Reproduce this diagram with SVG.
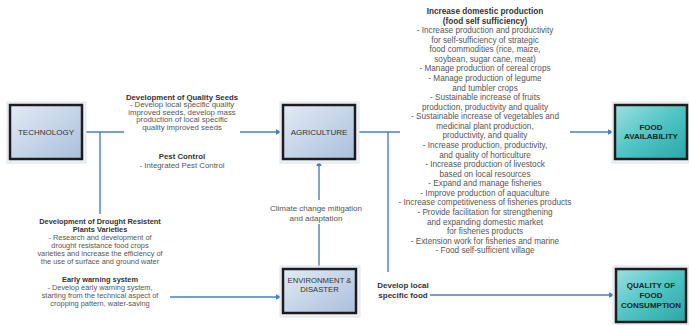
<svg xmlns="http://www.w3.org/2000/svg" width="689" height="325" viewBox="0 0 689 325">
<defs>
<linearGradient id="gBlue" x1="0" y1="0" x2="1" y2="1">
<stop offset="0" stop-color="#e3ebf5"/>
<stop offset="1" stop-color="#a9bfdb"/>
</linearGradient>
<linearGradient id="gTeal" x1="0" y1="0" x2="1" y2="1">
<stop offset="0" stop-color="#9fe0e0"/>
<stop offset="0.5" stop-color="#4fc4c4"/>
<stop offset="1" stop-color="#2aa6a6"/>
</linearGradient>
<marker id="arr" viewBox="0 0 10 10" refX="9" refY="5" markerWidth="6" markerHeight="6" markerUnits="userSpaceOnUse" orient="auto">
<path d="M0,0 L10,5 L0,10 z" fill="#4a7ebb"/>
</marker>
</defs>
<style>
.halo{fill:#eef2f8;stroke:#e0e4ea;stroke-width:1}
.box{stroke:#1c1c1c;stroke-width:2.5}
.blue{fill:url(#gBlue)}
.teal{fill:url(#gTeal)}
.lbl{font-family:"Liberation Sans",Arial,sans-serif;font-size:8px;fill:#333;text-anchor:middle}
.lblb{font-family:"Liberation Sans",Arial,sans-serif;font-size:8px;font-weight:bold;fill:#222;text-anchor:middle}
.t{font-family:"Liberation Sans",Arial,sans-serif;fill:#555;text-anchor:middle}
.h{font-family:"Liberation Sans",Arial,sans-serif;fill:#333;font-weight:bold;text-anchor:middle}
.ln{fill:none;stroke:#4a7ebb;stroke-width:1.4}
</style>
<rect width="689" height="325" fill="#fff"/>

<g id="connectors">
<path class="ln" d="M83,132 H124"/>
<path class="ln" d="M100,132 V214"/>
<path class="ln" d="M240,132 H281" marker-end="url(#arr)"/>
<path class="ln" d="M357,132 H400"/>
<path class="ln" d="M388,132 V272"/>
<path class="ln" d="M570,132 H613" marker-end="url(#arr)"/>
<path class="ln" d="M430,295 H614" marker-end="url(#arr)"/>
<path class="ln" d="M170,297 H281" marker-end="url(#arr)"/>
<path class="ln" d="M319,224 V268"/>
<path class="ln" d="M319,200 V161" marker-end="url(#arr)"/>
</g>

<g id="technology">
<rect class="halo" x="7" y="102" width="79" height="61"/>
<rect class="box blue" x="10" y="105" width="72" height="54"/>
<text class="lbl" x="46" y="135">TECHNOLOGY</text>
</g>

<g id="agriculture">
<rect class="halo" x="280" y="102" width="79" height="61"/>
<rect class="box blue" x="283" y="105" width="72" height="54"/>
<text class="lbl" x="319" y="135">AGRICULTURE</text>
</g>

<g id="environment">
<rect class="halo" x="280" y="266" width="80" height="51"/>
<rect class="box blue" x="283" y="269" width="73" height="44"/>
<text class="lbl" x="319.5" y="283" style="font-size:7.7px">ENVIRONMENT &amp;</text>
<text class="lbl" x="319.5" y="292" style="font-size:7.7px">DISASTER</text>
</g>

<g id="food-availability">
<rect class="halo" x="612" y="102" width="77" height="61"/>
<rect class="box teal" x="615" y="105" width="72" height="54"/>
<text class="lblb" x="651" y="130">FOOD</text>
<text class="lblb" x="651" y="139">AVAILABILITY</text>
</g>

<g id="quality-consumption">
<rect class="halo" x="613" y="266" width="76" height="59"/>
<rect class="box teal" x="616" y="269" width="70" height="53"/>
<text class="lblb" x="651" y="288">QUALITY OF</text>
<text class="lblb" x="651" y="298">FOOD</text>
<text class="lblb" x="651" y="308">CONSUMPTION</text>
</g>

<g id="seeds-text" style="font-size:7.8px">
<text class="h" x="182" y="99.8">Development of Quality Seeds</text>
<text class="t" x="182" y="107.3">- Develop local specific quality</text>
<text class="t" x="182" y="114.8">improved seeds, develop mass</text>
<text class="t" x="182" y="122.3">production of local specific</text>
<text class="t" x="182" y="129.8">quality improved seeds</text>
<text class="h" x="182" y="158.8">Pest Control</text>
<text class="t" x="182" y="168">- Integrated Pest Control</text>
</g>

<g id="drought-text" style="font-size:7.4px">
<text class="h" x="100" y="224">Development of Drought Resistent</text>
<text class="h" x="100" y="232.1">Plants Varieties</text>
<text class="t" x="100" y="240.3">- Research and development of</text>
<text class="t" x="100" y="248.2">drought resistance food crops</text>
<text class="t" x="100" y="256.1">varieties and increase the efficiency of</text>
<text class="t" x="100" y="264.2">the use of surface and ground water</text>
<text class="h" x="100" y="282">Early warning system</text>
<text class="t" x="100" y="290">- Develop early warning system,</text>
<text class="t" x="100" y="297.8">starting from the technical aspect of</text>
<text class="t" x="100" y="305.6">cropping pattern, water-saving</text>
</g>

<g id="climate-text" style="font-size:8px">
<rect x="268" y="201" width="98" height="22" fill="#fff"/>
<text class="t" x="316" y="211">Climate change mitigation</text>
<text class="t" x="316" y="221">and adaptation</text>
</g>

<g id="local-food-text" style="font-size:8px">
<text class="h" x="403" y="288">Develop local</text>
<text class="h" x="403" y="298">specific food</text>
</g>

<g id="production-text" style="font-size:8.2px">
<text class="h" x="485" y="14">Increase domestic production</text>
<text class="h" x="485" y="23.5">(food self sufficiency)</text>
<text class="t" x="485" y="33.1">- Increase production and productivity</text>
<text class="t" x="485" y="42.6">for self-sufficiency of strategic</text>
<text class="t" x="485" y="52.2">food commodities (rice, maize,</text>
<text class="t" x="485" y="61.8">soybean, sugar cane, meat)</text>
<text class="t" x="485" y="71.4">- Manage production of cereal crops</text>
<text class="t" x="485" y="80.9">- Manage production of legume</text>
<text class="t" x="485" y="90.5">and tumbler crops</text>
<text class="t" x="485" y="100.1">- Sustainable increase of fruits</text>
<text class="t" x="485" y="109.6">production, productivity and quality</text>
<text class="t" x="485" y="119.2">- Sustainable increase of vegetables and</text>
<text class="t" x="485" y="128.8">medicinal plant production,</text>
<text class="t" x="485" y="138.3">productivity, and quality</text>
<text class="t" x="485" y="147.9">- Increase production, productivity,</text>
<text class="t" x="485" y="157.5">and quality of horticulture</text>
<text class="t" x="485" y="167">- Increase production of livestock</text>
<text class="t" x="485" y="176.6">based on local resources</text>
<text class="t" x="485" y="186.2">- Expand and manage fisheries</text>
<text class="t" x="485" y="195.8">- Improve production of aquaculture</text>
<text class="t" x="485" y="205.3">- Increase competitiveness of fisheries products</text>
<text class="t" x="485" y="214.9">- Provide facilitation for strengthening</text>
<text class="t" x="485" y="224.5">and expanding domestic market</text>
<text class="t" x="485" y="234">for fisheries products</text>
<text class="t" x="485" y="243.6">- Extension work for fisheries and marine</text>
<text class="t" x="485" y="253.2">- Food self-sufficient village</text>
</g>
</svg>
